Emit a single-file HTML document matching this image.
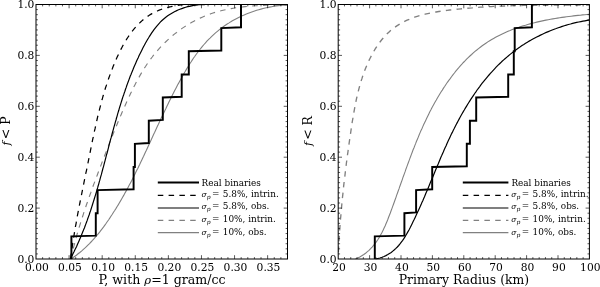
<!DOCTYPE html>
<html><head><meta charset="utf-8"><title>CDF plots</title>
<style>
html,body{margin:0;padding:0;background:#fff;}
svg{display:block;}
text{font-family:"DejaVu Serif","Liberation Serif",serif;fill:#000;}
.tk{font-size:10.7px;}
.lb{font-size:12.5px;}
.lg{font-size:8.9px;}
.it{font-style:italic;}
.fr{fill:none;stroke:#000;stroke-width:1;}
.t{fill:none;stroke:#000;stroke-width:0.65;}
.c{fill:none;stroke-linejoin:miter;stroke-linecap:butt;}
</style></head><body>
<svg width="600" height="287" viewBox="0 0 600 287">
<rect width="600" height="287" fill="#fff"/>
<clipPath id="c1"><rect x="36.0" y="4.0" width="251.5" height="255.5"/></clipPath>
<g clip-path="url(#c1)">
<path class="c" d="M71.0,259.0 L72.8,257.8 L74.6,256.5 L76.4,255.2 L78.1,253.8 L79.8,252.5 L81.5,251.1 L83.1,249.6 L84.8,248.2 L86.4,246.7 L87.9,245.1 L89.5,243.6 L91.0,242.0 L92.5,240.4 L93.9,238.8 L95.4,237.1 L96.8,235.5 L98.2,233.8 L99.6,232.1 L100.9,230.4 L102.3,228.6 L103.6,226.9 L104.9,225.1 L106.2,223.3 L107.4,221.5 L108.7,219.7 L109.9,217.9 L111.1,216.0 L112.3,214.2 L113.5,212.3 L114.7,210.5 L115.9,208.6 L117.0,206.7 L118.2,204.9 L119.3,203.0 L120.4,201.1 L121.5,199.2 L122.6,197.3 L123.7,195.4 L124.7,193.5 L125.8,191.6 L126.9,189.6 L127.9,187.7 L128.9,185.8 L130.0,183.8 L131.0,181.9 L132.0,179.9 L133.0,178.0 L134.0,176.0 L135.0,174.1 L135.9,172.1 L136.9,170.1 L137.9,168.2 L138.8,166.2 L139.8,164.2 L140.7,162.2 L141.7,160.2 L142.6,158.3 L143.6,156.3 L144.5,154.3 L145.4,152.3 L146.4,150.3 L147.3,148.3 L148.2,146.3 L149.1,144.3 L150.1,142.3 L151.0,140.3 L151.9,138.3 L152.8,136.3 L153.7,134.3 L154.7,132.3 L155.6,130.3 L156.5,128.3 L157.4,126.3 L158.4,124.3 L159.3,122.3 L160.2,120.3 L161.1,118.3 L162.1,116.3 L163.0,114.4 L164.0,112.4 L164.9,110.4 L165.9,108.4 L166.8,106.4 L167.8,104.4 L168.7,102.5 L169.7,100.5 L170.7,98.5 L171.7,96.5 L172.7,94.6 L173.7,92.6 L174.7,90.6 L175.7,88.7 L176.7,86.7 L177.7,84.8 L178.8,82.9 L179.8,80.9 L180.9,79.0 L182.0,77.1 L183.1,75.1 L184.1,73.2 L185.3,71.3 L186.4,69.4 L187.5,67.5 L188.7,65.7 L189.8,63.8 L191.0,62.0 L192.2,60.1 L193.4,58.3 L194.7,56.5 L195.9,54.7 L197.2,53.0 L198.5,51.2 L199.9,49.5 L201.2,47.8 L202.6,46.1 L204.0,44.5 L205.5,42.8 L206.9,41.2 L208.4,39.6 L210.0,38.1 L211.5,36.6 L213.1,35.1 L214.7,33.6 L216.4,32.2 L218.0,30.8 L219.7,29.4 L221.5,28.1 L223.2,26.8 L225.0,25.5 L226.8,24.3 L228.7,23.1 L230.5,21.9 L232.4,20.8 L234.3,19.7 L236.3,18.7 L238.2,17.7 L240.2,16.7 L242.2,15.8 L244.2,14.9 L246.3,14.0 L248.3,13.2 L250.4,12.4 L252.5,11.7 L254.6,11.0 L256.7,10.3 L258.8,9.7 L260.9,9.1 L263.1,8.5 L265.2,8.0 L267.4,7.5 L269.6,7.1 L271.7,6.7 L273.9,6.3 L276.1,6.0 L278.3,5.7 L280.5,5.5 L282.6,5.3 L284.8,5.1 L287.0,5.0" stroke="#808080" stroke-width="1.1"/>
<path class="c" d="M70.8,259.0 L71.3,256.7 L71.8,254.5 L72.4,252.2 L72.9,249.9 L73.5,247.7 L74.1,245.4 L74.7,243.2 L75.3,240.9 L75.9,238.7 L76.5,236.4 L77.1,234.2 L77.8,232.0 L78.4,229.8 L79.1,227.5 L79.8,225.3 L80.5,223.1 L81.2,220.9 L81.9,218.7 L82.6,216.5 L83.3,214.3 L84.0,212.1 L84.7,209.9 L85.5,207.7 L86.2,205.5 L87.0,203.3 L87.8,201.1 L88.5,198.9 L89.3,196.7 L90.1,194.5 L90.9,192.4 L91.6,190.2 L92.4,188.0 L93.2,185.8 L94.0,183.6 L94.9,181.5 L95.7,179.3 L96.5,177.1 L97.3,175.0 L98.1,172.8 L98.9,170.6 L99.8,168.4 L100.6,166.3 L101.4,164.1 L102.2,161.9 L103.1,159.8 L103.9,157.6 L104.7,155.4 L105.6,153.3 L106.4,151.1 L107.2,148.9 L108.1,146.8 L108.9,144.6 L109.8,142.4 L110.6,140.3 L111.5,138.1 L112.3,135.9 L113.2,133.8 L114.1,131.6 L114.9,129.5 L115.8,127.3 L116.7,125.2 L117.6,123.0 L118.5,120.8 L119.4,118.7 L120.3,116.5 L121.2,114.4 L122.1,112.3 L123.1,110.1 L124.0,108.0 L125.0,105.8 L125.9,103.7 L126.9,101.6 L127.9,99.4 L128.8,97.3 L129.8,95.2 L130.8,93.1 L131.9,91.0 L132.9,88.8 L133.9,86.7 L135.0,84.7 L136.1,82.6 L137.2,80.5 L138.3,78.5 L139.5,76.4 L140.6,74.4 L141.8,72.4 L143.0,70.4 L144.2,68.4 L145.5,66.5 L146.8,64.5 L148.1,62.6 L149.4,60.7 L150.8,58.8 L152.2,57.0 L153.6,55.1 L155.1,53.3 L156.6,51.6 L158.1,49.8 L159.6,48.1 L161.2,46.4 L162.8,44.7 L164.4,43.1 L166.1,41.5 L167.8,39.9 L169.5,38.3 L171.2,36.8 L173.0,35.3 L174.7,33.9 L176.6,32.5 L178.4,31.1 L180.2,29.7 L182.1,28.4 L184.0,27.1 L185.9,25.8 L187.9,24.6 L189.9,23.4 L191.9,22.3 L193.9,21.2 L195.9,20.1 L198.0,19.1 L200.1,18.1 L202.2,17.2 L204.3,16.3 L206.4,15.4 L208.6,14.6 L210.8,13.8 L213.0,13.0 L215.2,12.3 L217.4,11.7 L219.7,11.1 L221.9,10.5 L224.2,10.0 L226.5,9.5 L228.8,9.0 L231.1,8.6 L233.4,8.2 L235.8,7.8 L238.1,7.4 L240.4,7.1 L242.8,6.9 L245.1,6.6 L247.5,6.4 L249.9,6.2 L252.2,6.0 L254.6,5.8 L256.9,5.7 L259.3,5.5 L261.6,5.4 L264.0,5.4 L266.3,5.3 L268.7,5.2 L271.0,5.2 L273.3,5.1 L275.6,5.1 L277.9,5.1 L280.2,5.1 L282.5,5.1 L284.8,5.1 L287.0,5.1" stroke="#808080" stroke-width="1.15" stroke-dasharray="5.5 5.3"/>
<path class="c" d="M70.3,259.0 L71.2,257.2 L72.2,255.4 L73.1,253.6 L74.0,251.8 L74.8,250.0 L75.7,248.2 L76.6,246.4 L77.4,244.5 L78.2,242.7 L79.0,240.9 L79.8,239.0 L80.6,237.2 L81.4,235.3 L82.1,233.5 L82.9,231.6 L83.6,229.7 L84.4,227.9 L85.1,226.0 L85.8,224.1 L86.5,222.3 L87.2,220.4 L87.8,218.5 L88.5,216.6 L89.2,214.7 L89.8,212.8 L90.5,210.9 L91.1,209.0 L91.7,207.1 L92.3,205.2 L92.9,203.3 L93.5,201.4 L94.1,199.5 L94.7,197.5 L95.3,195.6 L95.9,193.7 L96.5,191.8 L97.0,189.8 L97.6,187.9 L98.1,186.0 L98.7,184.1 L99.2,182.1 L99.8,180.2 L100.3,178.2 L100.8,176.3 L101.4,174.4 L101.9,172.4 L102.4,170.5 L102.9,168.5 L103.5,166.6 L104.0,164.7 L104.5,162.7 L105.0,160.8 L105.5,158.8 L106.0,156.9 L106.5,154.9 L107.1,153.0 L107.6,151.0 L108.1,149.1 L108.6,147.1 L109.1,145.2 L109.6,143.2 L110.1,141.3 L110.6,139.4 L111.2,137.4 L111.7,135.5 L112.2,133.5 L112.7,131.6 L113.3,129.6 L113.8,127.7 L114.3,125.8 L114.9,123.8 L115.4,121.9 L116.0,120.0 L116.5,118.0 L117.1,116.1 L117.6,114.2 L118.2,112.2 L118.8,110.3 L119.3,108.4 L119.9,106.5 L120.5,104.6 L121.1,102.6 L121.7,100.7 L122.3,98.8 L122.9,96.9 L123.6,95.0 L124.2,93.1 L124.9,91.2 L125.5,89.3 L126.2,87.4 L126.8,85.5 L127.5,83.6 L128.2,81.8 L128.9,79.9 L129.6,78.0 L130.3,76.1 L131.1,74.3 L131.8,72.4 L132.6,70.6 L133.3,68.7 L134.1,66.8 L134.9,65.0 L135.7,63.2 L136.5,61.3 L137.3,59.5 L138.2,57.7 L139.0,55.8 L139.9,54.0 L140.8,52.2 L141.7,50.4 L142.6,48.6 L143.5,46.8 L144.5,45.0 L145.4,43.3 L146.4,41.5 L147.4,39.7 L148.5,38.0 L149.5,36.3 L150.6,34.6 L151.7,32.9 L152.8,31.3 L154.0,29.7 L155.2,28.1 L156.4,26.6 L157.7,25.1 L159.0,23.6 L160.3,22.2 L161.7,20.8 L163.1,19.5 L164.6,18.2 L166.1,17.0 L167.7,15.8 L169.3,14.7 L171.0,13.7 L172.7,12.7 L174.4,11.7 L176.2,10.9 L178.0,10.0 L179.9,9.3 L181.8,8.6 L183.7,7.9 L185.7,7.3 L187.7,6.7 L189.7,6.3 L191.7,5.8 L193.7,5.4 L195.8,5.1 L197.8,4.8 L199.9,4.5 L201.9,4.5 L204.0,4.5 L206.0,4.5 L208.1,4.5 L210.1,4.5 L212.1,4.5 L214.1,4.5 L216.1,4.5 L218.1,4.5 L220.0,4.5" stroke="#000" stroke-width="1.2"/>
<path class="c" d="M70.5,259.0 L70.8,257.0 L71.0,255.0 L71.3,252.9 L71.6,250.9 L71.9,248.9 L72.2,246.9 L72.5,244.9 L72.8,242.8 L73.1,240.8 L73.4,238.8 L73.8,236.8 L74.1,234.8 L74.4,232.8 L74.8,230.8 L75.1,228.8 L75.4,226.8 L75.8,224.8 L76.2,222.8 L76.5,220.7 L76.9,218.7 L77.2,216.7 L77.6,214.7 L78.0,212.7 L78.4,210.7 L78.8,208.7 L79.1,206.8 L79.5,204.8 L79.9,202.8 L80.3,200.8 L80.7,198.8 L81.1,196.8 L81.5,194.8 L81.9,192.8 L82.3,190.8 L82.7,188.8 L83.1,186.8 L83.5,184.8 L83.9,182.8 L84.3,180.8 L84.7,178.8 L85.1,176.8 L85.5,174.8 L85.9,172.8 L86.4,170.8 L86.8,168.9 L87.2,166.9 L87.6,164.9 L88.0,162.9 L88.4,160.9 L88.8,158.9 L89.2,156.9 L89.6,154.9 L90.0,152.9 L90.4,150.9 L90.8,148.9 L91.2,146.9 L91.6,144.9 L92.0,142.9 L92.4,140.9 L92.8,138.9 L93.3,136.9 L93.7,134.9 L94.1,132.9 L94.5,130.9 L95.0,128.9 L95.4,127.0 L95.8,125.0 L96.3,123.0 L96.7,121.0 L97.2,119.0 L97.6,117.0 L98.1,115.0 L98.6,113.1 L99.1,111.1 L99.6,109.1 L100.1,107.1 L100.6,105.2 L101.1,103.2 L101.6,101.2 L102.2,99.3 L102.7,97.3 L103.3,95.3 L103.9,93.4 L104.4,91.4 L105.0,89.5 L105.6,87.5 L106.3,85.6 L106.9,83.6 L107.5,81.7 L108.2,79.8 L108.9,77.8 L109.6,75.9 L110.3,74.0 L111.0,72.0 L111.7,70.1 L112.5,68.2 L113.2,66.3 L114.0,64.4 L114.8,62.5 L115.6,60.6 L116.4,58.7 L117.3,56.8 L118.2,54.9 L119.1,53.1 L120.0,51.2 L120.9,49.4 L121.9,47.5 L122.8,45.7 L123.9,43.9 L124.9,42.1 L125.9,40.4 L127.0,38.7 L128.1,37.0 L129.3,35.3 L130.4,33.6 L131.6,32.0 L132.9,30.4 L134.1,28.9 L135.4,27.4 L136.7,25.9 L138.1,24.5 L139.5,23.1 L140.9,21.7 L142.4,20.4 L143.9,19.2 L145.4,18.0 L147.0,16.8 L148.6,15.7 L150.3,14.6 L152.0,13.6 L153.7,12.7 L155.5,11.8 L157.3,11.0 L159.2,10.2 L161.0,9.5 L163.0,8.8 L164.9,8.2 L166.9,7.7 L168.9,7.1 L170.9,6.7 L172.9,6.2 L175.0,5.8 L177.0,5.5 L179.1,5.2 L181.2,4.9 L183.3,4.7 L185.4,4.5 L187.5,4.5 L189.6,4.5 L191.7,4.5 L193.8,4.5 L195.8,4.5 L197.9,4.5 L200.0,4.5 L202.0,4.5 L204.0,4.5 L206.1,4.5 L208.0,4.5 L210.0,4.5" stroke="#000" stroke-width="1.25" stroke-dasharray="5.5 5.3"/>
<path class="c" d="M71.4,259.0 L71.4,236.4 L95.8,235.6 L95.8,213.2 L97.6,213.2 L97.6,190.1 L133.6,189.3 L133.6,167.0 L134.9,167.0 L134.9,143.8 L148.8,143.0 L148.8,120.7 L162.8,119.9 L162.8,97.5 L181.7,96.7 L181.7,74.4 L188.8,74.4 L188.8,51.3 L221.3,50.5 L221.3,28.1 L241.0,27.3 L241.0,4.5" stroke="#000" stroke-width="1.95"/>
</g>
<path class="t" d="M69.09,259.00v-3.8 M69.09,4.50v3.8 M102.18,259.00v-3.8 M102.18,4.50v3.8 M135.28,259.00v-3.8 M135.28,4.50v3.8 M168.37,259.00v-3.8 M168.37,4.50v3.8 M201.46,259.00v-3.8 M201.46,4.50v3.8 M234.55,259.00v-3.8 M234.55,4.50v3.8 M267.64,259.00v-3.8 M267.64,4.50v3.8 M42.62,259.00v-1.9 M42.62,4.50v1.9 M49.24,259.00v-1.9 M49.24,4.50v1.9 M55.86,259.00v-1.9 M55.86,4.50v1.9 M62.47,259.00v-1.9 M62.47,4.50v1.9 M75.71,259.00v-1.9 M75.71,4.50v1.9 M82.33,259.00v-1.9 M82.33,4.50v1.9 M88.95,259.00v-1.9 M88.95,4.50v1.9 M95.57,259.00v-1.9 M95.57,4.50v1.9 M108.80,259.00v-1.9 M108.80,4.50v1.9 M115.42,259.00v-1.9 M115.42,4.50v1.9 M122.04,259.00v-1.9 M122.04,4.50v1.9 M128.66,259.00v-1.9 M128.66,4.50v1.9 M141.89,259.00v-1.9 M141.89,4.50v1.9 M148.51,259.00v-1.9 M148.51,4.50v1.9 M155.13,259.00v-1.9 M155.13,4.50v1.9 M161.75,259.00v-1.9 M161.75,4.50v1.9 M174.99,259.00v-1.9 M174.99,4.50v1.9 M181.61,259.00v-1.9 M181.61,4.50v1.9 M188.22,259.00v-1.9 M188.22,4.50v1.9 M194.84,259.00v-1.9 M194.84,4.50v1.9 M208.08,259.00v-1.9 M208.08,4.50v1.9 M214.70,259.00v-1.9 M214.70,4.50v1.9 M221.32,259.00v-1.9 M221.32,4.50v1.9 M227.93,259.00v-1.9 M227.93,4.50v1.9 M241.17,259.00v-1.9 M241.17,4.50v1.9 M247.79,259.00v-1.9 M247.79,4.50v1.9 M254.41,259.00v-1.9 M254.41,4.50v1.9 M261.03,259.00v-1.9 M261.03,4.50v1.9 M274.26,259.00v-1.9 M274.26,4.50v1.9 M280.88,259.00v-1.9 M280.88,4.50v1.9 M287.50,259.00v-1.9 M287.50,4.50v1.9 M36.00,253.91h1.9 M287.50,253.91h-1.9 M36.00,248.82h1.9 M287.50,248.82h-1.9 M36.00,243.73h1.9 M287.50,243.73h-1.9 M36.00,238.64h1.9 M287.50,238.64h-1.9 M36.00,233.55h1.9 M287.50,233.55h-1.9 M36.00,228.46h1.9 M287.50,228.46h-1.9 M36.00,223.37h1.9 M287.50,223.37h-1.9 M36.00,218.28h1.9 M287.50,218.28h-1.9 M36.00,213.19h1.9 M287.50,213.19h-1.9 M36.00,208.10h3.8 M287.50,208.10h-3.8 M36.00,203.01h1.9 M287.50,203.01h-1.9 M36.00,197.92h1.9 M287.50,197.92h-1.9 M36.00,192.83h1.9 M287.50,192.83h-1.9 M36.00,187.74h1.9 M287.50,187.74h-1.9 M36.00,182.65h1.9 M287.50,182.65h-1.9 M36.00,177.56h1.9 M287.50,177.56h-1.9 M36.00,172.47h1.9 M287.50,172.47h-1.9 M36.00,167.38h1.9 M287.50,167.38h-1.9 M36.00,162.29h1.9 M287.50,162.29h-1.9 M36.00,157.20h3.8 M287.50,157.20h-3.8 M36.00,152.11h1.9 M287.50,152.11h-1.9 M36.00,147.02h1.9 M287.50,147.02h-1.9 M36.00,141.93h1.9 M287.50,141.93h-1.9 M36.00,136.84h1.9 M287.50,136.84h-1.9 M36.00,131.75h1.9 M287.50,131.75h-1.9 M36.00,126.66h1.9 M287.50,126.66h-1.9 M36.00,121.57h1.9 M287.50,121.57h-1.9 M36.00,116.48h1.9 M287.50,116.48h-1.9 M36.00,111.39h1.9 M287.50,111.39h-1.9 M36.00,106.30h3.8 M287.50,106.30h-3.8 M36.00,101.21h1.9 M287.50,101.21h-1.9 M36.00,96.12h1.9 M287.50,96.12h-1.9 M36.00,91.03h1.9 M287.50,91.03h-1.9 M36.00,85.94h1.9 M287.50,85.94h-1.9 M36.00,80.85h1.9 M287.50,80.85h-1.9 M36.00,75.76h1.9 M287.50,75.76h-1.9 M36.00,70.67h1.9 M287.50,70.67h-1.9 M36.00,65.58h1.9 M287.50,65.58h-1.9 M36.00,60.49h1.9 M287.50,60.49h-1.9 M36.00,55.40h3.8 M287.50,55.40h-3.8 M36.00,50.31h1.9 M287.50,50.31h-1.9 M36.00,45.22h1.9 M287.50,45.22h-1.9 M36.00,40.13h1.9 M287.50,40.13h-1.9 M36.00,35.04h1.9 M287.50,35.04h-1.9 M36.00,29.95h1.9 M287.50,29.95h-1.9 M36.00,24.86h1.9 M287.50,24.86h-1.9 M36.00,19.77h1.9 M287.50,19.77h-1.9 M36.00,14.68h1.9 M287.50,14.68h-1.9 M36.00,9.59h1.9 M287.50,9.59h-1.9"/>
<rect class="fr" x="36.0" y="4.5" width="251.5" height="254.5"/>
<text class="tk" x="34.4" y="262.9" text-anchor="end">0.0</text>
<text class="tk" x="34.4" y="212.0" text-anchor="end">0.2</text>
<text class="tk" x="34.4" y="161.1" text-anchor="end">0.4</text>
<text class="tk" x="34.4" y="110.2" text-anchor="end">0.6</text>
<text class="tk" x="34.4" y="59.3" text-anchor="end">0.8</text>
<text class="tk" x="34.4" y="8.4" text-anchor="end">1.0</text>
<text class="tk" x="36.9" y="270.8" text-anchor="middle">0.00</text>
<text class="tk" x="70.0" y="270.8" text-anchor="middle">0.05</text>
<text class="tk" x="103.1" y="270.8" text-anchor="middle">0.10</text>
<text class="tk" x="136.2" y="270.8" text-anchor="middle">0.15</text>
<text class="tk" x="169.3" y="270.8" text-anchor="middle">0.20</text>
<text class="tk" x="202.4" y="270.8" text-anchor="middle">0.25</text>
<text class="tk" x="235.5" y="270.8" text-anchor="middle">0.30</text>
<text class="tk" x="268.5" y="270.8" text-anchor="middle">0.35</text>
<text class="lb" style="font-size:12.6px" x="162.0" y="283.7" text-anchor="middle">P, with <tspan class="it" font-size="11.6px">ρ</tspan>=1 gram/cc</text>
<text class="lb" transform="translate(10,132.2) rotate(-90)" ><tspan class="it" x="-13.4" font-size="11px">f</tspan><tspan x="-7.1">&lt; P</tspan></text>
<path class="c" d="M157.8,182.4H199.0" stroke="#000" stroke-width="1.95"/>
<path class="c" d="M157.8,195.4H199.0" stroke="#000" stroke-width="1.25" stroke-dasharray="5.5 5.3"/>
<path class="c" d="M157.8,208.0H199.0" stroke="#000" stroke-width="1.2"/>
<path class="c" d="M157.8,220.4H199.0" stroke="#808080" stroke-width="1.15" stroke-dasharray="5.5 5.3"/>
<path class="c" d="M157.8,232.6H199.0" stroke="#808080" stroke-width="1.1"/>
<text class="lg" x="201.6" y="185.6">Real binaries</text>
<text class="lg" y="196.8"><tspan class="it" x="201.5" font-size="7.6px">σ</tspan><tspan class="it" font-size="6px" dy="1.9">p</tspan><tspan x="212.0" dy="-1.9">=</tspan><tspan x="222.8">5.8%, intrin.</tspan></text>
<text class="lg" y="209.4"><tspan class="it" x="201.5" font-size="7.6px">σ</tspan><tspan class="it" font-size="6px" dy="1.9">p</tspan><tspan x="212.0" dy="-1.9">=</tspan><tspan x="222.8">5.8%, obs.</tspan></text>
<text class="lg" y="222.0"><tspan class="it" x="201.5" font-size="7.6px">σ</tspan><tspan class="it" font-size="6px" dy="1.9">p</tspan><tspan x="212.0" dy="-1.9">=</tspan><tspan x="222.8">10%, intrin.</tspan></text>
<text class="lg" y="234.6"><tspan class="it" x="201.5" font-size="7.6px">σ</tspan><tspan class="it" font-size="6px" dy="1.9">p</tspan><tspan x="212.0" dy="-1.9">=</tspan><tspan x="222.8">10%, obs.</tspan></text>
<clipPath id="c2"><rect x="338.2" y="4.0" width="251.2" height="255.5"/></clipPath>
<g clip-path="url(#c2)">
<path class="c" d="M355.5,259.0 L357.7,258.0 L359.8,256.9 L361.8,255.7 L363.8,254.5 L365.6,253.2 L367.4,251.7 L369.0,250.3 L370.6,248.7 L372.1,247.1 L373.6,245.4 L375.0,243.7 L376.3,241.9 L377.6,240.0 L378.8,238.1 L379.9,236.2 L381.0,234.2 L382.1,232.2 L383.1,230.2 L384.1,228.1 L385.1,226.0 L386.0,223.8 L386.9,221.7 L387.8,219.5 L388.6,217.3 L389.4,215.2 L390.3,213.0 L391.1,210.8 L391.9,208.6 L392.7,206.4 L393.5,204.2 L394.3,202.0 L395.1,199.8 L395.9,197.6 L396.6,195.4 L397.4,193.2 L398.2,191.0 L399.0,188.9 L399.7,186.7 L400.5,184.5 L401.3,182.3 L402.1,180.1 L402.8,177.9 L403.6,175.8 L404.4,173.6 L405.2,171.4 L405.9,169.2 L406.7,167.1 L407.5,164.9 L408.3,162.7 L409.1,160.6 L409.9,158.4 L410.7,156.3 L411.5,154.1 L412.3,152.0 L413.1,149.8 L414.0,147.7 L414.8,145.6 L415.7,143.4 L416.5,141.3 L417.4,139.2 L418.3,137.1 L419.1,135.0 L420.0,132.9 L420.9,130.8 L421.9,128.7 L422.8,126.6 L423.7,124.5 L424.7,122.4 L425.7,120.4 L426.7,118.3 L427.7,116.2 L428.7,114.2 L429.7,112.1 L430.8,110.1 L431.8,108.0 L432.9,106.0 L434.0,104.0 L435.1,102.0 L436.3,100.0 L437.4,98.0 L438.6,96.0 L439.8,94.0 L441.0,92.0 L442.3,90.1 L443.5,88.1 L444.8,86.2 L446.1,84.2 L447.4,82.3 L448.8,80.4 L450.2,78.6 L451.5,76.7 L452.9,74.8 L454.4,73.0 L455.8,71.2 L457.3,69.4 L458.8,67.7 L460.3,65.9 L461.9,64.2 L463.4,62.5 L465.0,60.9 L466.6,59.2 L468.2,57.6 L469.9,56.0 L471.6,54.5 L473.3,52.9 L475.0,51.4 L476.8,50.0 L478.5,48.6 L480.3,47.2 L482.2,45.8 L484.0,44.5 L485.9,43.2 L487.8,41.9 L489.7,40.7 L491.7,39.5 L493.6,38.4 L495.6,37.3 L497.6,36.2 L499.7,35.2 L501.7,34.2 L503.8,33.2 L505.9,32.2 L508.0,31.3 L510.1,30.5 L512.3,29.6 L514.5,28.8 L516.6,28.0 L518.8,27.3 L521.0,26.5 L523.2,25.8 L525.5,25.2 L527.7,24.5 L530.0,23.9 L532.2,23.3 L534.5,22.7 L536.8,22.1 L539.0,21.6 L541.3,21.1 L543.6,20.6 L545.9,20.1 L548.2,19.7 L550.5,19.3 L552.8,18.9 L555.1,18.5 L557.4,18.1 L559.7,17.7 L562.0,17.4 L564.3,17.1 L566.6,16.8 L568.9,16.5 L571.2,16.2 L573.5,15.9 L575.7,15.6 L578.0,15.4 L580.3,15.2 L582.5,14.9 L584.8,14.7 L587.0,14.5 L589.2,14.3" stroke="#808080" stroke-width="1.1"/>
<path class="c" d="M338.4,252.0 L338.5,249.2 L338.7,246.4 L338.8,243.7 L339.0,240.9 L339.2,238.2 L339.3,235.4 L339.5,232.7 L339.7,229.9 L339.9,227.2 L340.1,224.5 L340.3,221.7 L340.5,219.0 L340.8,216.3 L341.0,213.6 L341.2,210.9 L341.5,208.2 L341.7,205.5 L342.0,202.7 L342.2,200.0 L342.5,197.3 L342.8,194.6 L343.1,191.9 L343.3,189.2 L343.6,186.6 L343.9,183.9 L344.2,181.2 L344.5,178.5 L344.9,175.8 L345.2,173.1 L345.5,170.4 L345.8,167.7 L346.2,165.0 L346.5,162.3 L346.9,159.6 L347.2,156.9 L347.6,154.2 L348.0,151.5 L348.3,148.8 L348.7,146.1 L349.1,143.4 L349.5,140.6 L349.9,137.9 L350.3,135.2 L350.7,132.5 L351.1,129.7 L351.5,127.0 L351.9,124.3 L352.3,121.5 L352.8,118.8 L353.2,116.0 L353.7,113.3 L354.2,110.6 L354.7,107.8 L355.2,105.1 L355.8,102.4 L356.3,99.7 L356.9,97.0 L357.6,94.3 L358.2,91.6 L358.9,88.9 L359.6,86.3 L360.4,83.6 L361.1,81.0 L362.0,78.4 L362.8,75.8 L363.7,73.2 L364.7,70.6 L365.7,68.1 L366.7,65.6 L367.8,63.1 L368.9,60.6 L370.1,58.2 L371.4,55.8 L372.7,53.4 L374.0,51.0 L375.4,48.7 L376.9,46.4 L378.4,44.2 L380.0,42.0 L381.7,39.8 L383.5,37.7 L385.3,35.7 L387.1,33.8 L389.1,31.9 L391.1,30.1 L393.2,28.5 L395.4,26.9 L397.6,25.4 L399.9,23.9 L402.2,22.6 L404.6,21.4 L407.1,20.2 L409.5,19.2 L412.1,18.2 L414.6,17.2 L417.2,16.4 L419.8,15.6 L422.5,14.9 L425.1,14.2 L427.8,13.6 L430.6,13.0 L433.3,12.5 L436.1,12.0 L438.8,11.5 L441.6,11.1 L444.4,10.7 L447.1,10.4 L449.9,10.0 L452.7,9.7 L455.5,9.4 L458.2,9.1 L461.0,8.8 L463.7,8.6 L466.5,8.3 L469.2,8.1 L472.0,7.9 L474.7,7.6 L477.4,7.4 L480.2,7.2 L482.9,7.1 L485.6,6.9 L488.4,6.7 L491.1,6.6 L493.8,6.4 L496.5,6.3 L499.2,6.2 L501.9,6.1 L504.6,6.0 L507.4,5.9 L510.1,5.8 L512.8,5.7 L515.5,5.6 L518.2,5.6 L520.9,5.5 L523.6,5.4 L526.3,5.4 L529.0,5.3 L531.7,5.3 L534.5,5.3 L537.2,5.2 L539.9,5.2 L542.6,5.2 L545.3,5.2 L548.1,5.2 L550.8,5.1 L553.5,5.1 L556.3,5.1 L559.0,5.1 L561.7,5.1 L564.5,5.1 L567.2,5.1 L570.0,5.1 L572.7,5.1 L575.5,5.1 L578.3,5.1 L581.0,5.1 L583.8,5.1 L586.6,5.1 L589.4,5.1" stroke="#808080" stroke-width="1.35" stroke-dasharray="5.5 5.3"/>
<path class="c" d="M375.5,259.0 L377.8,258.5 L379.9,258.0 L382.0,257.3 L384.0,256.5 L385.9,255.6 L387.8,254.6 L389.5,253.5 L391.2,252.4 L392.8,251.1 L394.4,249.8 L395.9,248.4 L397.3,247.0 L398.7,245.5 L400.0,243.9 L401.3,242.2 L402.5,240.6 L403.7,238.8 L404.8,237.1 L405.9,235.2 L407.0,233.4 L408.0,231.6 L409.1,229.7 L410.1,227.8 L411.0,225.9 L412.0,223.9 L412.9,222.0 L413.9,220.1 L414.8,218.2 L415.7,216.2 L416.6,214.3 L417.5,212.3 L418.4,210.4 L419.3,208.5 L420.2,206.5 L421.1,204.6 L421.9,202.6 L422.8,200.7 L423.6,198.7 L424.5,196.8 L425.3,194.8 L426.1,192.8 L426.9,190.9 L427.8,188.9 L428.6,187.0 L429.4,185.0 L430.2,183.0 L431.0,181.1 L431.9,179.1 L432.7,177.2 L433.5,175.2 L434.3,173.2 L435.1,171.3 L435.9,169.3 L436.7,167.4 L437.5,165.4 L438.4,163.4 L439.2,161.5 L440.0,159.5 L440.8,157.6 L441.7,155.6 L442.5,153.7 L443.4,151.7 L444.2,149.8 L445.1,147.8 L446.0,145.9 L446.8,144.0 L447.7,142.0 L448.6,140.1 L449.5,138.2 L450.4,136.2 L451.3,134.3 L452.3,132.4 L453.2,130.5 L454.2,128.6 L455.1,126.7 L456.1,124.8 L457.1,122.9 L458.1,121.0 L459.1,119.1 L460.1,117.2 L461.2,115.3 L462.2,113.5 L463.3,111.6 L464.4,109.8 L465.5,107.9 L466.6,106.1 L467.7,104.3 L468.8,102.5 L470.0,100.6 L471.1,98.9 L472.3,97.1 L473.5,95.3 L474.7,93.5 L475.9,91.8 L477.1,90.0 L478.4,88.3 L479.7,86.6 L480.9,84.9 L482.2,83.2 L483.5,81.6 L484.9,79.9 L486.2,78.3 L487.6,76.6 L489.0,75.0 L490.4,73.4 L491.8,71.9 L493.2,70.3 L494.6,68.8 L496.1,67.2 L497.6,65.7 L499.1,64.2 L500.6,62.8 L502.1,61.3 L503.7,59.9 L505.3,58.5 L506.9,57.1 L508.5,55.7 L510.1,54.4 L511.7,53.1 L513.4,51.8 L515.1,50.5 L516.8,49.2 L518.5,48.0 L520.3,46.8 L522.0,45.6 L523.8,44.5 L525.6,43.3 L527.4,42.2 L529.2,41.1 L531.1,40.1 L532.9,39.0 L534.8,38.0 L536.7,37.0 L538.6,36.1 L540.5,35.1 L542.4,34.2 L544.4,33.3 L546.3,32.4 L548.3,31.6 L550.3,30.8 L552.2,30.0 L554.2,29.2 L556.2,28.5 L558.3,27.7 L560.3,27.1 L562.3,26.4 L564.3,25.7 L566.4,25.1 L568.4,24.5 L570.5,24.0 L572.6,23.4 L574.6,22.9 L576.7,22.4 L578.8,22.0 L580.9,21.6 L582.9,21.2 L585.0,20.8 L587.1,20.4 L589.2,20.1" stroke="#000" stroke-width="1.2"/>
<path class="c" d="M374.8,259.0 L374.8,236.4 L404.4,235.6 L404.4,213.2 L416.1,212.4 L416.1,190.1 L432.2,189.3 L432.2,167.0 L466.8,166.2 L466.8,143.8 L469.9,143.8 L469.9,120.7 L476.2,120.7 L476.2,97.5 L508.2,96.7 L508.2,74.4 L513.8,74.4 L513.8,51.3 L514.7,51.3 L514.7,28.1 L531.9,27.3 L531.9,4.5" stroke="#000" stroke-width="1.95"/>
</g>
<path class="t" d="M369.60,259.00v-3.8 M369.60,4.50v3.8 M401.00,259.00v-3.8 M401.00,4.50v3.8 M432.40,259.00v-3.8 M432.40,4.50v3.8 M463.80,259.00v-3.8 M463.80,4.50v3.8 M495.20,259.00v-3.8 M495.20,4.50v3.8 M526.60,259.00v-3.8 M526.60,4.50v3.8 M558.00,259.00v-3.8 M558.00,4.50v3.8 M344.48,259.00v-1.9 M344.48,4.50v1.9 M350.76,259.00v-1.9 M350.76,4.50v1.9 M357.04,259.00v-1.9 M357.04,4.50v1.9 M363.32,259.00v-1.9 M363.32,4.50v1.9 M375.88,259.00v-1.9 M375.88,4.50v1.9 M382.16,259.00v-1.9 M382.16,4.50v1.9 M388.44,259.00v-1.9 M388.44,4.50v1.9 M394.72,259.00v-1.9 M394.72,4.50v1.9 M407.28,259.00v-1.9 M407.28,4.50v1.9 M413.56,259.00v-1.9 M413.56,4.50v1.9 M419.84,259.00v-1.9 M419.84,4.50v1.9 M426.12,259.00v-1.9 M426.12,4.50v1.9 M438.68,259.00v-1.9 M438.68,4.50v1.9 M444.96,259.00v-1.9 M444.96,4.50v1.9 M451.24,259.00v-1.9 M451.24,4.50v1.9 M457.52,259.00v-1.9 M457.52,4.50v1.9 M470.08,259.00v-1.9 M470.08,4.50v1.9 M476.36,259.00v-1.9 M476.36,4.50v1.9 M482.64,259.00v-1.9 M482.64,4.50v1.9 M488.92,259.00v-1.9 M488.92,4.50v1.9 M501.48,259.00v-1.9 M501.48,4.50v1.9 M507.76,259.00v-1.9 M507.76,4.50v1.9 M514.04,259.00v-1.9 M514.04,4.50v1.9 M520.32,259.00v-1.9 M520.32,4.50v1.9 M532.88,259.00v-1.9 M532.88,4.50v1.9 M539.16,259.00v-1.9 M539.16,4.50v1.9 M545.44,259.00v-1.9 M545.44,4.50v1.9 M551.72,259.00v-1.9 M551.72,4.50v1.9 M564.28,259.00v-1.9 M564.28,4.50v1.9 M570.56,259.00v-1.9 M570.56,4.50v1.9 M576.84,259.00v-1.9 M576.84,4.50v1.9 M583.12,259.00v-1.9 M583.12,4.50v1.9 M338.20,253.91h1.9 M589.40,253.91h-1.9 M338.20,248.82h1.9 M589.40,248.82h-1.9 M338.20,243.73h1.9 M589.40,243.73h-1.9 M338.20,238.64h1.9 M589.40,238.64h-1.9 M338.20,233.55h1.9 M589.40,233.55h-1.9 M338.20,228.46h1.9 M589.40,228.46h-1.9 M338.20,223.37h1.9 M589.40,223.37h-1.9 M338.20,218.28h1.9 M589.40,218.28h-1.9 M338.20,213.19h1.9 M589.40,213.19h-1.9 M338.20,208.10h3.8 M589.40,208.10h-3.8 M338.20,203.01h1.9 M589.40,203.01h-1.9 M338.20,197.92h1.9 M589.40,197.92h-1.9 M338.20,192.83h1.9 M589.40,192.83h-1.9 M338.20,187.74h1.9 M589.40,187.74h-1.9 M338.20,182.65h1.9 M589.40,182.65h-1.9 M338.20,177.56h1.9 M589.40,177.56h-1.9 M338.20,172.47h1.9 M589.40,172.47h-1.9 M338.20,167.38h1.9 M589.40,167.38h-1.9 M338.20,162.29h1.9 M589.40,162.29h-1.9 M338.20,157.20h3.8 M589.40,157.20h-3.8 M338.20,152.11h1.9 M589.40,152.11h-1.9 M338.20,147.02h1.9 M589.40,147.02h-1.9 M338.20,141.93h1.9 M589.40,141.93h-1.9 M338.20,136.84h1.9 M589.40,136.84h-1.9 M338.20,131.75h1.9 M589.40,131.75h-1.9 M338.20,126.66h1.9 M589.40,126.66h-1.9 M338.20,121.57h1.9 M589.40,121.57h-1.9 M338.20,116.48h1.9 M589.40,116.48h-1.9 M338.20,111.39h1.9 M589.40,111.39h-1.9 M338.20,106.30h3.8 M589.40,106.30h-3.8 M338.20,101.21h1.9 M589.40,101.21h-1.9 M338.20,96.12h1.9 M589.40,96.12h-1.9 M338.20,91.03h1.9 M589.40,91.03h-1.9 M338.20,85.94h1.9 M589.40,85.94h-1.9 M338.20,80.85h1.9 M589.40,80.85h-1.9 M338.20,75.76h1.9 M589.40,75.76h-1.9 M338.20,70.67h1.9 M589.40,70.67h-1.9 M338.20,65.58h1.9 M589.40,65.58h-1.9 M338.20,60.49h1.9 M589.40,60.49h-1.9 M338.20,55.40h3.8 M589.40,55.40h-3.8 M338.20,50.31h1.9 M589.40,50.31h-1.9 M338.20,45.22h1.9 M589.40,45.22h-1.9 M338.20,40.13h1.9 M589.40,40.13h-1.9 M338.20,35.04h1.9 M589.40,35.04h-1.9 M338.20,29.95h1.9 M589.40,29.95h-1.9 M338.20,24.86h1.9 M589.40,24.86h-1.9 M338.20,19.77h1.9 M589.40,19.77h-1.9 M338.20,14.68h1.9 M589.40,14.68h-1.9 M338.20,9.59h1.9 M589.40,9.59h-1.9"/>
<rect class="fr" x="338.2" y="4.5" width="251.2" height="254.5"/>
<text class="tk" x="336.6" y="262.9" text-anchor="end">0.0</text>
<text class="tk" x="336.6" y="212.0" text-anchor="end">0.2</text>
<text class="tk" x="336.6" y="161.1" text-anchor="end">0.4</text>
<text class="tk" x="336.6" y="110.2" text-anchor="end">0.6</text>
<text class="tk" x="336.6" y="59.3" text-anchor="end">0.8</text>
<text class="tk" x="336.6" y="8.4" text-anchor="end">1.0</text>
<text class="tk" x="339.1" y="270.8" text-anchor="middle">20</text>
<text class="tk" x="370.5" y="270.8" text-anchor="middle">30</text>
<text class="tk" x="401.9" y="270.8" text-anchor="middle">40</text>
<text class="tk" x="433.3" y="270.8" text-anchor="middle">50</text>
<text class="tk" x="464.7" y="270.8" text-anchor="middle">60</text>
<text class="tk" x="496.1" y="270.8" text-anchor="middle">70</text>
<text class="tk" x="527.5" y="270.8" text-anchor="middle">80</text>
<text class="tk" x="558.9" y="270.8" text-anchor="middle">90</text>
<text class="tk" x="590.3" y="270.8" text-anchor="middle">100</text>
<text class="lb" style="font-size:12.4px" x="463.9" y="283.7" text-anchor="middle">Primary Radius (km)</text>
<text class="lb" transform="translate(312.2,132.2) rotate(-90)" ><tspan class="it" x="-13.9" font-size="11px">f</tspan><tspan x="-7.65">&lt; R</tspan></text>
<path class="c" d="M462.8,182.4H508.4" stroke="#000" stroke-width="1.95"/>
<path class="c" d="M462.8,195.4H508.4" stroke="#000" stroke-width="1.25" stroke-dasharray="5.5 5.3"/>
<path class="c" d="M462.8,208.0H508.4" stroke="#000" stroke-width="1.2"/>
<path class="c" d="M462.8,220.4H508.4" stroke="#808080" stroke-width="1.15" stroke-dasharray="5.5 5.3"/>
<path class="c" d="M462.8,232.6H508.4" stroke="#808080" stroke-width="1.1"/>
<text class="lg" x="511.4" y="185.6">Real binaries</text>
<text class="lg" y="196.8"><tspan class="it" x="511.3" font-size="7.6px">σ</tspan><tspan class="it" font-size="6px" dy="1.9">p</tspan><tspan x="521.8" dy="-1.9">=</tspan><tspan x="532.6">5.8%, intrin.</tspan></text>
<text class="lg" y="209.4"><tspan class="it" x="511.3" font-size="7.6px">σ</tspan><tspan class="it" font-size="6px" dy="1.9">p</tspan><tspan x="521.8" dy="-1.9">=</tspan><tspan x="532.6">5.8%, obs.</tspan></text>
<text class="lg" y="222.0"><tspan class="it" x="511.3" font-size="7.6px">σ</tspan><tspan class="it" font-size="6px" dy="1.9">p</tspan><tspan x="521.8" dy="-1.9">=</tspan><tspan x="532.6">10%, intrin.</tspan></text>
<text class="lg" y="234.6"><tspan class="it" x="511.3" font-size="7.6px">σ</tspan><tspan class="it" font-size="6px" dy="1.9">p</tspan><tspan x="521.8" dy="-1.9">=</tspan><tspan x="532.6">10%, obs.</tspan></text>
</svg></body></html>
